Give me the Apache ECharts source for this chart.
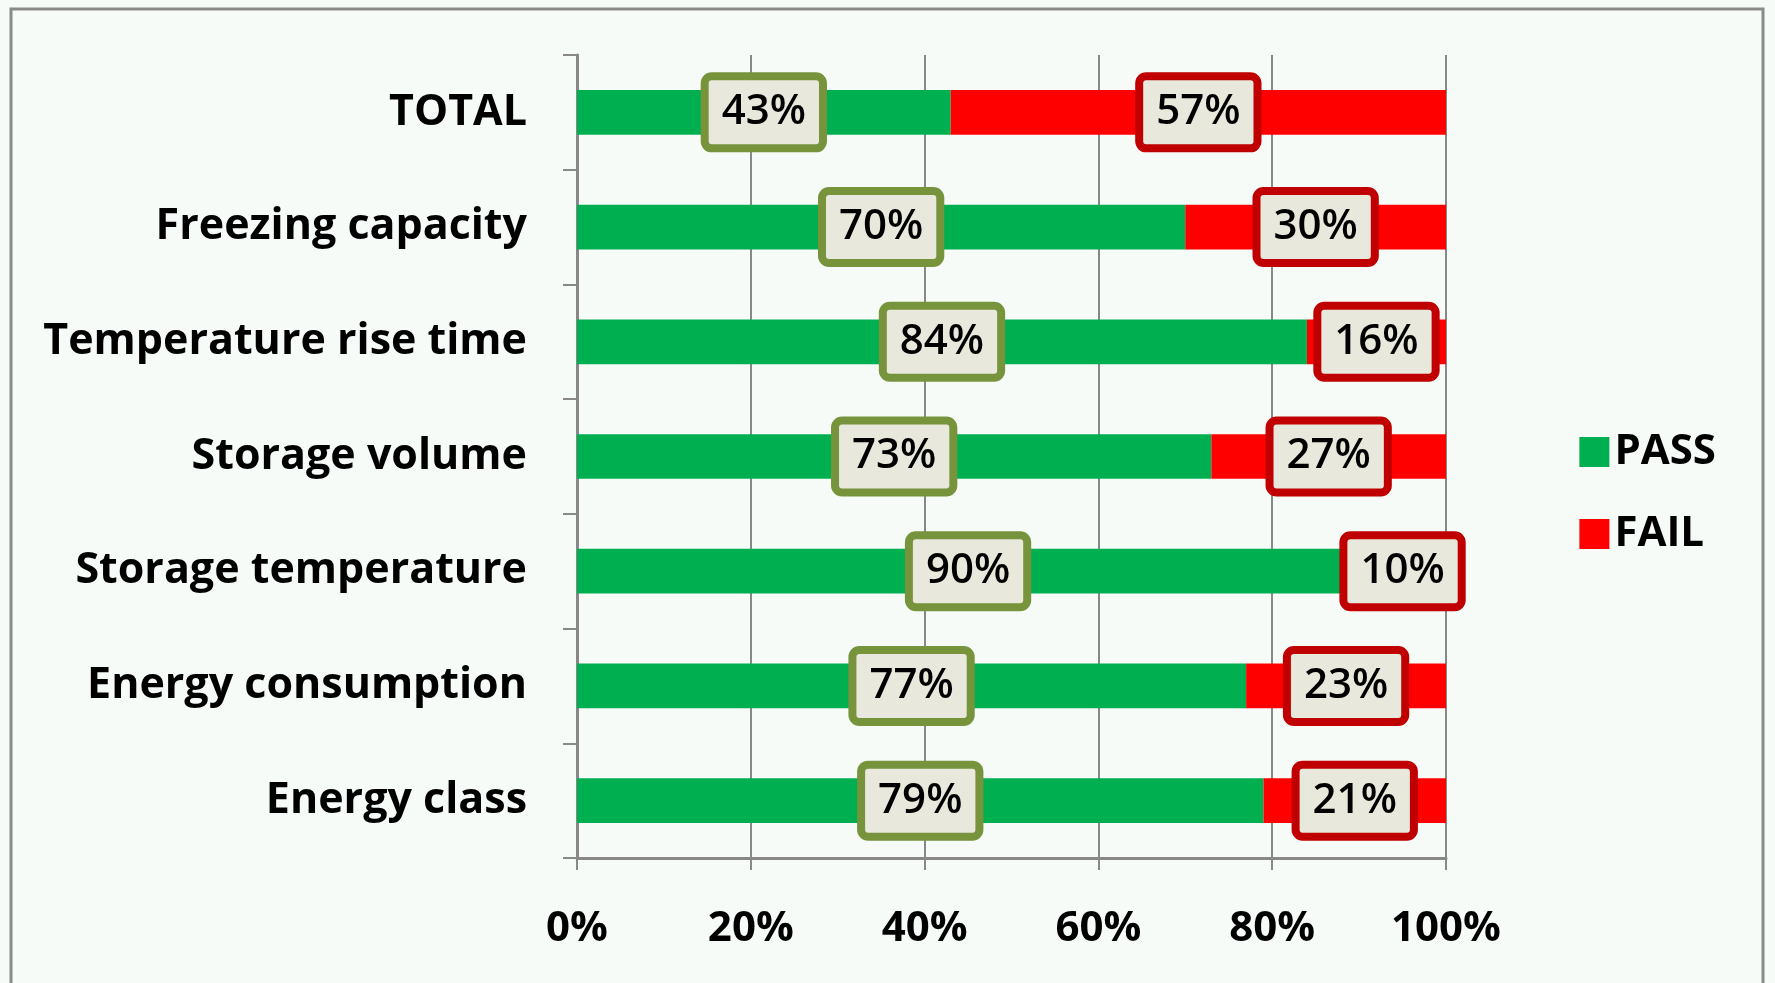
<!DOCTYPE html>
<html><head><meta charset="utf-8">
<script src="https://cdn.jsdelivr.net/npm/echarts@6/dist/echarts.min.js"></script>
<style>html,body{margin:0;padding:0;background:#f6fbf8;}#c{width:1775px;height:983px;}</style>
</head><body><div id="c"></div>
<script>
const categories = ['Energy class','Energy consumption','Storage temperature','Storage volume','Temperature rise time','Freezing capacity','TOTAL'];
const passValues = [79, 77, 90, 73, 84, 70, 43];
const failValues = [21, 23, 10, 27, 16, 30, 57];
const xTicks = [0, 20, 40, 60, 80, 100];
const seriesNames = ['PASS', 'FAIL'];

const FONT = 'Open Sans';
const chart = echarts.init(document.getElementById('c'), null, {renderer: 'canvas'});
function lbl(border) {
  return {
    show: true, position: 'inside', formatter: '{c}%',
    fontFamily: FONT, fontSize: 42, color: '#000', fontWeight: 600,
    backgroundColor: '#e8e8dc', borderColor: border, borderWidth: 8, borderRadius: 3,
    padding: [13, 13, 9, 13]
  };
}
chart.setOption({
  backgroundColor: '#f6fbf8',
  animation: false,
  graphic: [{type: 'rect', shape: {x: 11, y: 9, width: 1752, height: 1100}, style: {fill: 'none', stroke: '#8a8a8a', lineWidth: 3}, z: -1}],
  legend: {
    orient: 'vertical', right: 54, top: 426, itemWidth: 30, itemHeight: 30, itemGap: 40,
    icon: 'rect', data: seriesNames,
    textStyle: {fontFamily: FONT, fontSize: 42, fontWeight: 'bold', color: '#000'}
  },
  grid: {left: 577, right: 329, top: 55, bottom: 125},
  xAxis: {
    type: 'value', min: 0, max: 100, interval: 20,
    axisLine: {show: true, lineStyle: {color: '#888', width: 3}},
    axisTick: {show: true, length: 12, lineStyle: {color: '#888', width: 2}},
    splitLine: {show: true, lineStyle: {color: '#888', width: 2}},
    axisLabel: {margin: 50, fontFamily: FONT, fontSize: 42, fontWeight: 'bold', color: '#000',
      formatter: v => xTicks.includes(v) ? v + '%' : ''}
  },
  yAxis: {
    type: 'category', data: categories,
    axisLine: {show: true, lineStyle: {color: '#888', width: 3}},
    axisTick: {show: true, length: 14, lineStyle: {color: '#888', width: 2}},
    axisLabel: {margin: 50, fontFamily: FONT, fontSize: 43, fontWeight: 'bold', color: '#000', padding: [9, 0, 0, 0]}
  },
  series: [
    {name: seriesNames[0], type: 'bar', stack: 's', data: passValues, barWidth: '39%', itemStyle: {color: '#00b050'}, label: lbl('#77933c')},
    {name: seriesNames[1], type: 'bar', stack: 's', data: failValues, barWidth: '39%', itemStyle: {color: '#ff0000'}, label: lbl('#c00000')}
  ]
});
</script></body></html>
